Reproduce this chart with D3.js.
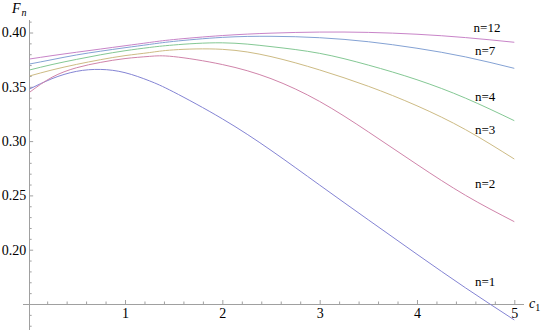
<!DOCTYPE html>
<html>
<head>
<meta charset="utf-8">
<script src="https://cdn.jsdelivr.net/npm/d3@7"></script>
<style>
    body { margin: 0; background: #fff; }
    text { font-family: "Liberation Serif", "Times New Roman", serif; fill: #000; }
</style>
</head>
<body>
<div id="chart"></div>
<script>

// c1 sample points (same for every curve)
const c1Values = [0.02, 0.25, 0.5, 0.75, 1.0, 1.25, 1.5, 2.0, 2.5, 3.0, 3.5, 4.0, 4.5, 5.0];

// F_n, one list per n
const fn1  = [0.348, 0.3575, 0.3642, 0.3660, 0.3630, 0.3555, 0.3452, 0.3205, 0.2915, 0.2595, 0.2275, 0.1958, 0.1648, 0.1353];
const fn2  = [0.345, 0.3588, 0.3675, 0.3725, 0.3760, 0.3780, 0.3778, 0.3705, 0.3575, 0.3365, 0.3085, 0.2785, 0.2500, 0.2258];
const fn3  = [0.360, 0.3655, 0.3706, 0.3750, 0.3787, 0.3815, 0.3840, 0.3845, 0.3778, 0.3655, 0.3505, 0.3325, 0.3105, 0.2835];
const fn4  = [0.3655, 0.3705, 0.3752, 0.3795, 0.3832, 0.3862, 0.3885, 0.3905, 0.3870, 0.3808, 0.3700, 0.3565, 0.3395, 0.3188];
const fn7  = [0.371, 0.375, 0.3793, 0.3828, 0.386, 0.389, 0.3918, 0.3955, 0.3965, 0.3952, 0.3915, 0.3855, 0.3775, 0.367];
const fn12 = [0.3756, 0.3787, 0.3818, 0.3848, 0.3878, 0.3908, 0.3935, 0.3972, 0.3994, 0.4004, 0.4001, 0.3984, 0.3953, 0.391];

const seriesNames = ["n=1", "n=2", "n=3", "n=4", "n=7", "n=12"];
const seriesValues = [fn1, fn2, fn3, fn4, fn7, fn12];
const seriesColors = ["#8484d4", "#d084aa", "#cdbb84", "#84c894", "#84a2d4", "#c884c8"];

// where each label sits (c1, F_n at the text baseline)
const labelPos = [[4.70, 0.1666], [4.70, 0.2568], [4.70, 0.3065], [4.70, 0.3369], [4.70, 0.3793], [4.72, 0.4005]];

const yMajorTicks = [0.20, 0.25, 0.30, 0.35, 0.40];
const xMajorTicks = [1, 2, 3, 4, 5];

class LineGraph
{
    constructor(config)
    {
        this.config = config;
        this.margins = null;

        this.xScale = null;
        this.yScale = null;

        this.createSvg();
        this.createMargins();
        this.createScales();
        this.createAxis();
        this.createLines();
        this.createLabels();
    }

    createSvg()
    {
        this.svg = d3.select(this.config.div)
            .append("svg")
            .attr("width", 542)
            .attr("height", 330);
    }

    createMargins()
    {
        // everything inside this group is already shifted by the margins
        this.margins = this.svg
            .append("g")
            .attr("transform", `translate(${this.config.left},${this.config.top})`);
    }

    createScales()
    {
        this.xScale = d3.scaleLinear().domain([0, 5]).range([0, this.config.width]);
        this.yScale = d3.scaleLinear().domain([0.15, 0.40]).range([this.config.height, 0]);
    }

    createAxis()
    {
        const x0 = this.xScale(0.015);
        const y0 = this.yScale(0.15);
        const axisColor = "#a0a0a0";

        // axis lines go a bit past the data range, like Mathematica does
        this.margins.append("line")
            .attr("x1", x0).attr("x2", x0)
            .attr("y1", this.yScale(0.4115)).attr("y2", this.yScale(0.1245))
            .attr("stroke", axisColor).attr("shape-rendering", "crispEdges");

        this.margins.append("line")
            .attr("x1", this.xScale(-0.05)).attr("x2", this.xScale(5.1))
            .attr("y1", y0).attr("y2", y0)
            .attr("stroke", axisColor).attr("shape-rendering", "crispEdges");

        // ticks point inwards, labels outside
        const yMinor = d3.range(13, 42).map(d => d / 100).filter(d => Math.round(d * 100) % 5 !== 0);
        const xMinor = d3.range(1, 25).map(d => d / 5).filter(d => Math.abs(d - Math.round(d)) > 1e-6);

        const yAxis = d3.axisLeft(this.yScale).tickValues(yMajorTicks).tickSize(-4).tickPadding(3).tickFormat(d3.format(".2f"));
        const yAxisMinor = d3.axisLeft(this.yScale).tickValues(yMinor).tickSize(-2.5).tickFormat("");
        const xAxis = d3.axisBottom(this.xScale).tickValues(xMajorTicks).tickSize(-4).tickPadding(4).tickFormat(d3.format("d"));
        const xAxisMinor = d3.axisBottom(this.xScale).tickValues(xMinor).tickSize(-2.5).tickFormat("");

        const groups = [
            [yAxis, `translate(${x0},0)`],
            [yAxisMinor, `translate(${x0},0)`],
            [xAxis, `translate(0,${y0})`],
            [xAxisMinor, `translate(0,${y0})`]
        ];

        groups.forEach(([ax, tr]) =>
        {
            const g = this.margins.append("g").attr("transform", tr).call(ax);
            g.select(".domain").remove();
            g.selectAll(".tick line").attr("stroke", axisColor);
            g.selectAll(".tick text")
                .attr("font-family", "Liberation Serif, Times New Roman, serif")
                .attr("font-size", 14)
                .attr("fill", "#000");
        });

        // axis titles
        const fLabel = this.svg.append("text")
            .attr("x", 12).attr("y", 13)
            .attr("font-size", 14);
        fLabel.append("tspan").attr("font-style", "italic").text("F");
        fLabel.append("tspan").attr("font-style", "italic").attr("font-size", 10).attr("dy", 3).attr("dx", 1).text("n");

        const cLabel = this.svg.append("text")
            .attr("x", 529).attr("y", 308)
            .attr("font-size", 14);
        cLabel.append("tspan").attr("font-style", "italic").text("c");
        cLabel.append("tspan").attr("font-size", 10).attr("dy", 3).text("1");
    }

    createLines()
    {
        const line = d3.line()
            .x(d => this.xScale(d[0]))
            .y(d => this.yScale(d[1]))
            .curve(d3.curveNatural);

        seriesValues.forEach((vals, i) =>
        {
            const pts = c1Values.map((c, j) => [c, vals[j]]);
            this.margins.append("path")
                .datum(pts)
                .attr("d", line)
                .attr("fill", "none")
                .attr("stroke", seriesColors[i])
                .attr("stroke-width", 1);
        });
    }

    createLabels()
    {
        this.margins.selectAll(".lbl")
            .data(seriesNames)
            .enter()
            .append("text")
            .attr("class", "lbl")
            .attr("x", (d, i) => this.xScale(labelPos[i][0]))
            .attr("y", (d, i) => this.yScale(labelPos[i][1]))
            .attr("text-anchor", "middle")
            .attr("font-size", 13)
            .text(d => d);
    }
}

new LineGraph({ div: "#chart", left: 27.7, top: 32.5, width: 486.6, height: 271.5 });

</script>
</body>
</html>
